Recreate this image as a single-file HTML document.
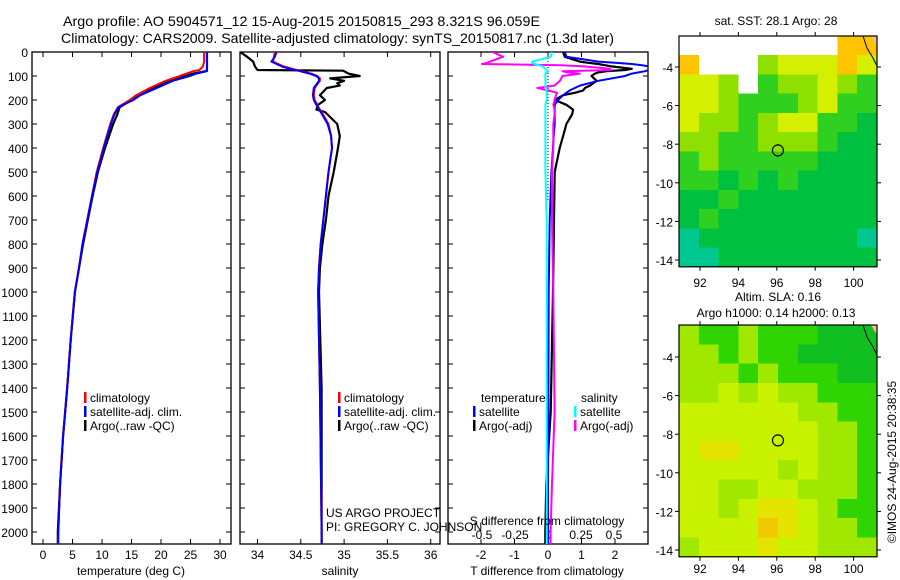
<!DOCTYPE html>
<html><head><meta charset="utf-8">
<style>
html,body{margin:0;padding:0;background:#fff;}
svg{display:block;font-family:"Liberation Sans",sans-serif;}
text{fill:#000;}
</style></head>
<body>
<svg id="chart" width="900" height="580" viewBox="0 0 900 580" xmlns="http://www.w3.org/2000/svg">
<text x="63" y="26" font-size="14" textLength="477" lengthAdjust="spacingAndGlyphs">Argo profile: AO 5904571_12 15-Aug-2015 20150815_293 8.321S 96.059E</text>
<text x="61" y="43" font-size="14" textLength="553" lengthAdjust="spacingAndGlyphs">Climatology: CARS2009. Satellite-adjusted climatology: synTS_20150817.nc (1.3d later)</text>
<g id="g"></g>
</svg>
<script>
// ---------- Data ----------
const tDepth = [0,20,40,60,75,80,90,100,120,150,180,200,230,260,300,350,400,500,600,700,800,900,1000,1200,1400,1600,1800,2000,2050];
const tClim  = [27.3,27.3,27.3,27.1,26.5,25.5,24.3,23.2,20.8,18.1,15.8,14.7,12.7,12.0,11.4,10.8,10.2,9.1,8.3,7.5,6.7,6.1,5.4,4.7,4.1,3.4,2.9,2.6,2.5];
const tSat   = [27.8,27.8,27.8,27.8,27.8,27.8,26.0,24.9,22.0,19.3,16.5,15.3,12.8,12.1,11.5,10.9,10.3,9.2,8.3,7.5,6.7,6.1,5.4,4.7,4.1,3.4,2.9,2.6,2.6];
const tArgo  = [27.8,27.8,27.8,27.8,27.8,27.6,25.5,24.0,21.5,18.8,16.3,15.0,13.0,12.6,11.9,11.2,10.5,9.3,8.4,7.6,6.8,6.1,5.4,4.7,4.1,3.4,2.9,2.5,2.5];

const sDepth = [0,20,40,60,75,78,90,100,110,120,130,140,150,180,200,220,240,250,300,350,400,500,600,700,800,900,1000,1400,2000,2050];
const sClim  = [34.20,34.19,34.18,34.30,34.45,34.49,34.62,34.69,34.72,34.72,34.70,34.68,34.66,34.65,34.66,34.69,34.72,34.74,34.82,34.85,34.86,34.82,34.79,34.76,34.73,34.71,34.70,34.72,34.74,34.74];
const sSat   = [34.22,34.20,34.16,34.28,34.42,34.47,34.60,34.68,34.71,34.71,34.69,34.67,34.65,34.64,34.65,34.68,34.71,34.73,34.81,34.85,34.86,34.82,34.79,34.76,34.73,34.71,34.70,34.72,34.74,34.74];
const sArgo  = [33.80,33.88,33.95,33.97,34.00,34.99,35.05,35.18,34.84,35.00,34.92,34.95,34.80,34.72,34.78,34.70,34.68,34.78,34.92,34.95,34.93,34.88,34.82,34.79,34.75,34.72,34.71,34.74,34.74,34.74];

const dDepth = [0,20,40,45,50,55,60,70,75,80,85,90,100,120,140,150,160,170,180,200,220,240,260,300,350,400,500,700,1000,1500,1800,2000,2050];
const dTSat  = [0.5,0.55,1.5,2.0,2.5,2.8,3.0,3.0,3.0,2.9,2.7,2.5,2.3,1.5,0.95,0.8,0.65,0.55,0.45,0.3,0.2,0.2,0.2,0.2,0.17,0.15,0.1,0.05,0.02,0.01,0.0,0.0,0.0];
const dTArgo = [0.45,0.5,0.95,1.2,1.5,1.7,1.9,2.5,2.3,1.75,1.5,1.4,1.3,1.45,1.25,1.1,1.05,0.8,0.45,0.2,0.55,0.75,0.72,0.55,0.45,0.35,0.2,0.18,0.15,0.08,-0.05,-0.08,-0.08];
const dSArgo = [-0.42,-0.34,-0.44,-0.46,-0.5,0.1,0.27,0.47,0.48,0.11,0.15,0.24,0.11,0.09,0.05,-0.08,0.0,0.07,0.06,0.05,0.04,0.05,0.05,0.04,0.04,0.04,0.03,0.03,0.04,0.05,0.03,0.02,0.02];
const dSSat  = [0.03,0.02,-0.12,-0.12,-0.1,-0.07,-0.04,-0.02,-0.01,0.0,-0.01,-0.02,-0.02,-0.02,-0.02,-0.02,-0.01,-0.01,-0.01,-0.01,-0.02,-0.02,-0.02,-0.02,-0.02,-0.02,-0.02,-0.01,-0.01,-0.01,-0.01,-0.01,-0.01];

const depthTicks = [0,100,200,300,400,500,600,700,800,900,1000,1100,1200,1300,1400,1500,1600,1700,1800,1900,2000];
const tTicks = [0,5,10,15,20,25,30];
const sTicks = [34,34.5,35,35.5,36];
const sTickLabels = ["34","34.5","35","35.5","36"];
const dtTicks = [-2,-1,0,1,2];
const dsTicks = [-0.5,-0.25,0,0.25,0.5];
const dsTickLabels = ["-0.5","-0.25","0","0.25","0.5"];
const lonTicks = [92,94,96,98,100];
const latTicks = [-4,-6,-8,-10,-12,-14];
const argoLon = 96.059, argoLat = -8.321;

// map grids (color codes, rows top->bottom)
const sstRows = [
 "WWWWWWWWOO","OWWWLYYYOY","YYLWGLLYLG","YYLGGGLYGG","YLLGLYYGGD","LLGGLLLGDD",
 "GLGGGGGDDD","GGDGDGDDDD","DDGDDDDDDD","DGDDDDDDDD","TDDDDDDDDT","TTDDDDDDDD"];
const slaRows = [
 "LGGLGGGDDD","LLGLGGDDDD","LLLGLGGGDD","LLYLYLLGGG","YYYYYYLLGG","YYYYYYYLLG",
 "YEEYYYYLLG","YYYYYLYLLG","YYLLYYLLLG","YYLYEEYLGG","YYYYOEYLLG","LYYYEYYLLL"];
const sstColors = {W:"#ffffff",O:"#ffc400",Y:"#d4f000",L:"#8ee000",G:"#30d020",D:"#00c040",T:"#00c890"};
const slaColors = {Y:"#c8f200",E:"#e4e400",O:"#f0c800",L:"#a0e800",G:"#30d400",D:"#10c020"};

// ---------- Helpers ----------
const NS="http://www.w3.org/2000/svg";
const root=document.getElementById('g');
function el(tag,attrs,parent){const e=document.createElementNS(NS,tag);for(const k in attrs)e.setAttribute(k,attrs[k]);(parent||root).appendChild(e);return e;}
function txt(x,y,s,anchor,size,parent){const t=el('text',{x:x,y:y,'font-size':size||12,'text-anchor':anchor||'start'},parent);t.textContent=s;return t;}

const Y0=52, PY=0.24, YB=544;
const yD = d => Y0 + d*PY;
const xT = t => 43 + t*5.9;
const xS = s => 257.5 + (s-34)*86.6;
const xDT = v => 548 + v*33.5;
const xDS = v => 548 + v*132;

function panel(name,x0,x1,clipId){
  const g=el('g',{});
  
  
  const cp=el('clipPath',{id:clipId});
  el('rect',{x:x0,y:Y0,width:x1-x0,height:YB-Y0},cp);
  const r=el('rect',{x:x0,y:Y0,width:x1-x0,height:YB-Y0,fill:'none',stroke:'#000','stroke-width':1.3},g);
  
  
  return g;
}
function line(xs,ds,xf,color,w,name,clip,parent){
  const pts=ds.map((d,i)=>xf(xs[i]).toFixed(1)+','+yD(d).toFixed(1)).join(' ');
  const p=el('polyline',{points:pts,fill:'none',stroke:color,'stroke-width':w,'clip-path':'url(#'+clip+')','stroke-linejoin':'round'},parent);
  
  
}
function xticks(g,ticks,labels,xf,ly){
  ticks.forEach((t,i)=>{
    const x=xf(t);
    el('line',{x1:x,y1:Y0,x2:x,y2:Y0+5,stroke:'#000'},g);
    el('line',{x1:x,y1:YB,x2:x,y2:YB-5,stroke:'#000'},g);
    if(labels){const l=txt(x,ly,labels[i],'middle',12,g);
      
      }
  });
}
function yticks(g,x0,x1){
  depthTicks.forEach(d=>{const y=yD(d);
    el('line',{x1:x0,y1:y,x2:x0+5,y2:y,stroke:'#000'},g);
    el('line',{x1:x1,y1:y,x2:x1-5,y2:y,stroke:'#000'},g);});
}
function legend(g,x,y,items){
  items.forEach((it,i)=>{
    const r=el('rect',{x:x,y:y+i*14-10,width:2.5,height:11,fill:it[1]},g);
    
    
    const t=txt(x+6,y+i*14,it[0],'start',12,g);
    
    
  });
}

// ---------- Panel 1: temperature ----------
const g1=panel('temperature-panel',32,231,'c1');
yticks(g1,32,231);
depthTicks.forEach(d=>{const l=txt(28,yD(d)+5,String(d),'end',12,g1);
  
  });
xticks(g1,tTicks,tTicks.map(String),xT,559);
line(tArgo,tDepth,xT,'#000',2.2,'temp-argo-line','c1',g1);
line(tClim,tDepth,xT,'#f00',2,'temp-climatology-line','c1',g1);
line(tSat,tDepth,xT,'#00f',2,'temp-satellite-line','c1',g1);
legend(g1,84,402,[['climatology','#f00'],['satellite-adj. clim.','#00f'],['Argo(..raw -QC)','#000']]);
let at=txt(131,575,'temperature (deg C)','middle',12,g1);



// ---------- Panel 2: salinity ----------
const g2=panel('salinity-panel',240,440,'c2');
yticks(g2,240,440);
xticks(g2,sTicks,sTickLabels,xS,559);
line(sArgo,sDepth,xS,'#000',2.2,'sal-argo-line','c2',g2);
line(sClim,sDepth,xS,'#f00',2,'sal-climatology-line','c2',g2);
line(sSat,sDepth,xS,'#00f',2,'sal-satellite-line','c2',g2);
legend(g2,338,402,[['climatology','#f00'],['satellite-adj. clim.','#00f'],['Argo(..raw -QC)','#000']]);
at=txt(340,575,'salinity','middle',12,g2);


let cr=txt(326,517,'US ARGO PROJECT','start',12,g2);


cr=txt(326,531,'PI: GREGORY C. JOHNSON','start',12,g2);



// ---------- Panel 3: differences ----------
const g3=panel('difference-panel',448,648,'c3');
yticks(g3,448,648);
xticks(g3,dtTicks,dtTicks.map(String),xDT,559);
dsTicks.forEach((v,i)=>{const l=txt(xDS(v),539,dsTickLabels[i],'middle',12,g3);
  
  });
let zl=el('line',{x1:xDT(0),y1:Y0,x2:xDT(0),y2:200,stroke:'#000','stroke-dasharray':'1,2'},g3);


line(dTArgo,dDepth,xDT,'#000',2.2,'tdiff-argo-line','c3',g3);
line(dTSat,dDepth,xDT,'#00f',2,'tdiff-satellite-line','c3',g3);
line(dSArgo,dDepth,xDS,'#f0f',2,'sdiff-argo-line','c3',g3);
line(dSSat,dDepth,xDS,'#0ff',2,'sdiff-satellite-line','c3',g3);
let lt=txt(481,402,'temperature','start',12,g3);


lt=txt(581,402,'salinity','start',12,g3);


legend(g3,473,416,[['satellite','#00f'],['Argo(-adj)','#000']]);
legend(g3,574,416,[['satellite','#0ff'],['Argo(-adj)','#f0f']]);
at=txt(547,525,'S difference from climatology','middle',12,g3);


at=txt(547,575,'T difference from climatology','middle',12,g3);



// ---------- Maps ----------
const MX0=679, MX1=877;
const xLon = lon => 700 + (lon-92)*19.2;
function drawMap(name,top,lat4y,rows,colors,titles,labY){
  const g=el('g',{});
  
  
  const yLat = lat => lat4y + (-4-lat)*19.3;
  const H=yLat(-14.35)-top;
  const cw=(MX1-MX0)/rows[0].length, ch=(H)/rows.length;
  const cells=el('g',{'shape-rendering':'crispEdges'},g);
  rows.forEach((row,r)=>{[...row].forEach((c,k)=>{
    const rc=el('rect',{x:MX0+k*cw,y:top+r*ch,width:cw+0.5,height:ch+0.5,fill:colors[c]},cells);
    
    
  });});
  const coast=el('polyline',{points:(MX1-14)+','+top+' '+(MX1-10)+','+(top+12)+' '+(MX1-4)+','+(top+22)+' '+MX1+','+(top+30),fill:'none',stroke:'#000','stroke-width':1},g);
  
  
  const land=el('polygon',{points:(MX1-6)+','+top+' '+MX1+','+top+' '+MX1+','+(top+10),fill:'#f8c090'},g);
  
  
  const fr=el('rect',{x:MX0,y:top,width:MX1-MX0,height:H,fill:'none',stroke:'#000','stroke-width':1.2},g);
  
  
  lonTicks.forEach(l=>{const x=xLon(l);
    el('line',{x1:x,y1:top,x2:x,y2:top-4,stroke:'#000'},g);
    el('line',{x1:x,y1:top+H,x2:x,y2:top+H+4,stroke:'#000'},g);
    const t=txt(x,labY,String(l),'middle',12,g);
    
    });
  latTicks.forEach(l=>{const y=yLat(l);
    el('line',{x1:MX0,y1:y,x2:MX0-4,y2:y,stroke:'#000'},g);
    el('line',{x1:MX1,y1:y,x2:MX1+4,y2:y,stroke:'#000'},g);
    const t=txt(MX0-6,y+5,String(l),'end',12,g);
    
    });
  const c=el('circle',{cx:xLon(argoLon),cy:yLat(argoLat),r:5.5,fill:'none',stroke:'#000','stroke-width':1.2},g);
  
  
  titles.forEach(tt=>{const t=txt(tt[0],tt[1],tt[2],'middle',12,g);
    
    });
}
drawMap('sst-map',36,67,sstRows,sstColors,[[776,25,'sat. SST: 28.1  Argo: 28']],287);
drawMap('sla-map',325,357,slaRows,slaColors,[[778,301,'Altim. SLA: 0.16'],[776,317,'Argo h1000: 0.14 h2000: 0.13']],573);

const ts=txt(0,0,'©IMOS 24-Aug-2015 20:38:35','middle',12);
ts.setAttribute('transform','translate(896,462) rotate(-90)');


</script>
</body></html>
